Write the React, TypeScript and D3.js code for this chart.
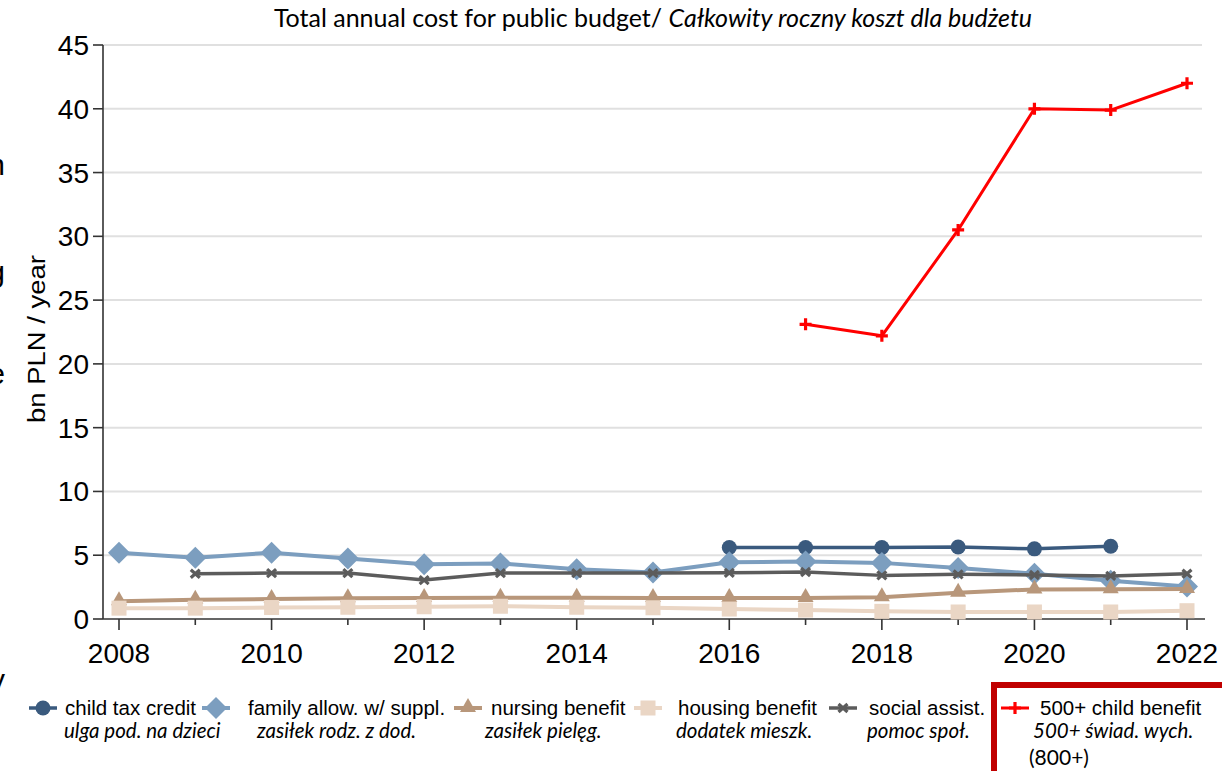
import { useEffect, useRef } from 'react';
import * as d3 from 'd3';

// years on the x axis
const years = [2008, 2009, 2010, 2011, 2012, 2013, 2014, 2015, 2016, 2017, 2018, 2019, 2020, 2021, 2022];

// bn PLN / year, null = no data
const childTaxCredit = [null, null, null, null, null, null, null, null, 5.6, 5.6, 5.6, 5.65, 5.5, 5.7, null];
const familyAllowance = [5.2, 4.8, 5.2, 4.75, 4.3, 4.35, 3.9, 3.65, 4.45, 4.5, 4.4, 4.0, 3.55, 3.0, 2.55];
const nursingBenefit = [1.4, 1.5, 1.57, 1.62, 1.65, 1.67, 1.67, 1.65, 1.65, 1.65, 1.7, 2.06, 2.32, 2.33, 2.35];
const housingBenefit = [0.85, 0.85, 0.9, 0.92, 0.96, 1.0, 0.92, 0.88, 0.78, 0.7, 0.6, 0.55, 0.55, 0.55, 0.65];
const socialAssist = [null, 3.55, 3.6, 3.6, 3.05, 3.6, 3.6, 3.6, 3.62, 3.68, 3.42, 3.5, 3.45, 3.38, 3.55];
const childBenefit500 = [null, null, null, null, null, null, null, null, null, 23.1, 22.2, 30.5, 40.0, 39.9, 42.0];

const yTicks = [0, 5, 10, 15, 20, 25, 30, 35, 40, 45];
const xLabelTicks = [2008, 2010, 2012, 2014, 2016, 2018, 2020, 2022];

const labelsEn = ['child tax credit', 'family allow. w/ suppl.', 'nursing benefit', 'housing benefit', 'social assist.', '500+ child benefit'];
const labelsPl = ['ulga pod. na dzieci', 'zasiłek rodz. z dod.', 'zasiłek pielęg.', 'dodatek mieszk.', 'pomoc społ.', '500+ świad. wych.'];

type MarkerType = 'circle' | 'diamond' | 'triangle' | 'square' | 'x' | 'plus';

interface Series {
  values: (number | null)[];
  color: string;
  marker: MarkerType;
  lineWidth: number;
}

const series: Series[] = [
  { values: childTaxCredit, color: '#3a5a7e', marker: 'circle', lineWidth: 3.5 },
  { values: familyAllowance, color: '#7c9ebf', marker: 'diamond', lineWidth: 4 },
  { values: nursingBenefit, color: '#b8977b', marker: 'triangle', lineWidth: 4 },
  { values: housingBenefit, color: '#ead6c5', marker: 'square', lineWidth: 4 },
  { values: socialAssist, color: '#5c5c5c', marker: 'x', lineWidth: 3.5 },
  { values: childBenefit500, color: '#ff0000', marker: 'plus', lineWidth: 3 },
];

const W = 1222;
const H = 771;
const SANS = '"Liberation Sans", Arial, sans-serif';
const HUMAN = 'Lato, "Open Sans", sans-serif';

function drawMarker(
  g: d3.Selection<SVGGElement, unknown, null, undefined>,
  type: MarkerType,
  x: number,
  y: number,
  color: string,
) {
  switch (type) {
    case 'circle':
      g.append('circle').attr('cx', x).attr('cy', y).attr('r', 7.5).attr('fill', color);
      break;
    case 'diamond':
      g.append('path')
        .attr('d', `M${x},${y - 11}L${x + 11},${y}L${x},${y + 11}L${x - 11},${y}Z`)
        .attr('fill', color);
      break;
    case 'triangle':
      g.append('path')
        .attr('d', `M${x},${y - 10}L${x + 8},${y + 4}L${x - 8},${y + 4}Z`)
        .attr('fill', color);
      break;
    case 'square':
      g.append('rect').attr('x', x - 7.5).attr('y', y - 7.5).attr('width', 15).attr('height', 15).attr('fill', color);
      break;
    case 'x':
      g.append('path')
        .attr('d', `M${x - 4.5},${y - 4}L${x + 4.5},${y + 4}M${x + 4.5},${y - 4}L${x - 4.5},${y + 4}`)
        .attr('stroke', color)
        .attr('stroke-width', 3.2)
        .attr('fill', 'none');
      break;
    case 'plus':
      g.append('path')
        .attr('d', `M${x - 6},${y}L${x + 6},${y}M${x},${y - 6}L${x},${y + 6}`)
        .attr('stroke', color)
        .attr('stroke-width', 3.2)
        .attr('fill', 'none');
      break;
  }
}

export default function App() {
  const svgRef = useRef<SVGSVGElement>(null);

  useEffect(() => {
    if (!svgRef.current) return;
    const svg = d3.select(svgRef.current);
    svg.selectAll('*').remove();

    const x = d3.scaleLinear().domain([2008, 2022]).range([119, 1187]);
    const y = d3.scaleLinear().domain([0, 45]).range([619, 45]);

    const root = svg.append('g');

    // --- Gridlines ---
    root.selectAll('.grid')
      .data(yTicks.filter((d) => d > 0))
      .enter()
      .append('line')
      .attr('x1', 103)
      .attr('x2', 1202)
      .attr('y1', (d) => y(d))
      .attr('y2', (d) => y(d))
      .attr('stroke', '#e0e0e0')
      .attr('stroke-width', 2);

    // --- Y axis ---
    root.append('line')
      .attr('x1', 103).attr('x2', 103)
      .attr('y1', y(45)).attr('y2', y(0))
      .attr('stroke', '#333').attr('stroke-width', 1.6);
    yTicks.forEach((t) => {
      root.append('line')
        .attr('x1', 93).attr('x2', 103)
        .attr('y1', y(t)).attr('y2', y(t))
        .attr('stroke', '#333').attr('stroke-width', 1.6);
      root.append('text')
        .attr('x', 89)
        .attr('y', y(t) + 10)
        .attr('text-anchor', 'end')
        .attr('font-family', SANS)
        .attr('font-size', '28px')
        .attr('fill', '#000')
        .text(String(t));
    });

    root.append('text')
      .attr('transform', 'translate(45,339) rotate(-90)')
      .attr('text-anchor', 'middle')
      .attr('font-family', SANS)
      .attr('font-size', '23px')
      .attr('fill', '#000')
      .attr('textLength', 168)
      .attr('lengthAdjust', 'spacingAndGlyphs')
      .text('bn PLN / year');

    // --- X axis ---
    root.append('line')
      .attr('x1', 103).attr('x2', 1205)
      .attr('y1', y(0)).attr('y2', y(0))
      .attr('stroke', '#333').attr('stroke-width', 1.6);
    years.forEach((yr) => {
      const major = xLabelTicks.includes(yr);
      root.append('line')
        .attr('x1', x(yr)).attr('x2', x(yr))
        .attr('y1', y(0)).attr('y2', y(0) + (major ? 11 : 6))
        .attr('stroke', '#333').attr('stroke-width', 1.6);
    });
    xLabelTicks.forEach((yr) => {
      root.append('text')
        .attr('x', x(yr))
        .attr('y', 663)
        .attr('text-anchor', 'middle')
        .attr('font-family', SANS)
        .attr('font-size', '28px')
        .attr('fill', '#000')
        .text(String(yr));
    });

    // --- Series ---
    series.forEach((s) => {
      const pts = years
        .map((yr, i) => ({ yr, v: s.values[i] }))
        .filter((d) => d.v !== null) as { yr: number; v: number }[];
      const line = d3.line<{ yr: number; v: number }>()
        .x((d) => x(d.yr))
        .y((d) => y(d.v));
      const g = root.append('g');
      g.append('path')
        .datum(pts)
        .attr('d', line)
        .attr('fill', 'none')
        .attr('stroke', s.color)
        .attr('stroke-width', s.lineWidth)
        .attr('stroke-linejoin', 'round');
      pts.forEach((d) => drawMarker(g, s.marker, x(d.yr), y(d.v), s.color));
    });

    // --- Title ---
    const title = svg.append('text')
      .attr('x', 653)
      .attr('y', 27)
      .attr('text-anchor', 'middle')
      .attr('font-family', HUMAN)
      .attr('font-size', '25px')
      .attr('fill', '#000');
    title.append('tspan').text('Total annual cost for public budget/ ');
    title.append('tspan').attr('font-style', 'italic').text('Całkowity roczny koszt dla budżetu');

    // --- Legend ---
    const legendMarkerX = [43, 216, 468, 648, 843, 1015];
    const legendTextX = [65, 248, 491, 678, 869, 1040];
    const legendSubX = [64, 257, 485, 676, 867, 1033];
    const leg = svg.append('g');
    series.forEach((s, i) => {
      const mx = legendMarkerX[i];
      const lg = leg.append('g');
      lg.append('line')
        .attr('x1', mx - 14).attr('x2', mx + 14)
        .attr('y1', 708).attr('y2', 708)
        .attr('stroke', s.color)
        .attr('stroke-width', s.lineWidth);
      drawMarker(lg, s.marker, mx, 708, s.color);
      lg.append('text')
        .attr('x', legendTextX[i])
        .attr('y', 715)
        .attr('font-family', SANS)
        .attr('font-size', '20.5px')
        .attr('fill', '#000')
        .text(labelsEn[i]);
      lg.append('text')
        .attr('x', legendSubX[i])
        .attr('y', 738)
        .attr('font-family', HUMAN)
        .attr('font-style', 'italic')
        .attr('font-size', '20.5px')
        .attr('fill', '#000')
        .text(labelsPl[i]);
    });
    leg.append('text')
      .attr('x', 1029)
      .attr('y', 765)
      .attr('font-family', HUMAN)
      .attr('font-size', '21px')
      .attr('fill', '#000')
      .text('(800+)');

    // highlight box around 500+ entry (runs off the page)
    svg.append('rect')
      .attr('x', 994)
      .attr('y', 685)
      .attr('width', 260)
      .attr('height', 120)
      .attr('fill', 'none')
      .attr('stroke', '#c00000')
      .attr('stroke-width', 6);

    // clipped text from neighbouring content at the left edge
    const edge = [
      { ch: 'n', y: 175 },
      { ch: 'g', y: 282 },
      { ch: 'e', y: 384 },
      { ch: 'y', y: 690 },
    ];
    edge.forEach((e) => {
      svg.append('text')
        .attr('x', 5)
        .attr('y', e.y)
        .attr('text-anchor', 'end')
        .attr('font-family', SANS)
        .attr('font-size', '30px')
        .attr('fill', '#000')
        .text(e.ch);
    });
  }, []);

  return (
    <svg
      ref={svgRef}
      width={W}
      height={H}
      style={{ position: 'absolute', left: 0, top: 0, background: '#fff' }}
    />
  );
}
